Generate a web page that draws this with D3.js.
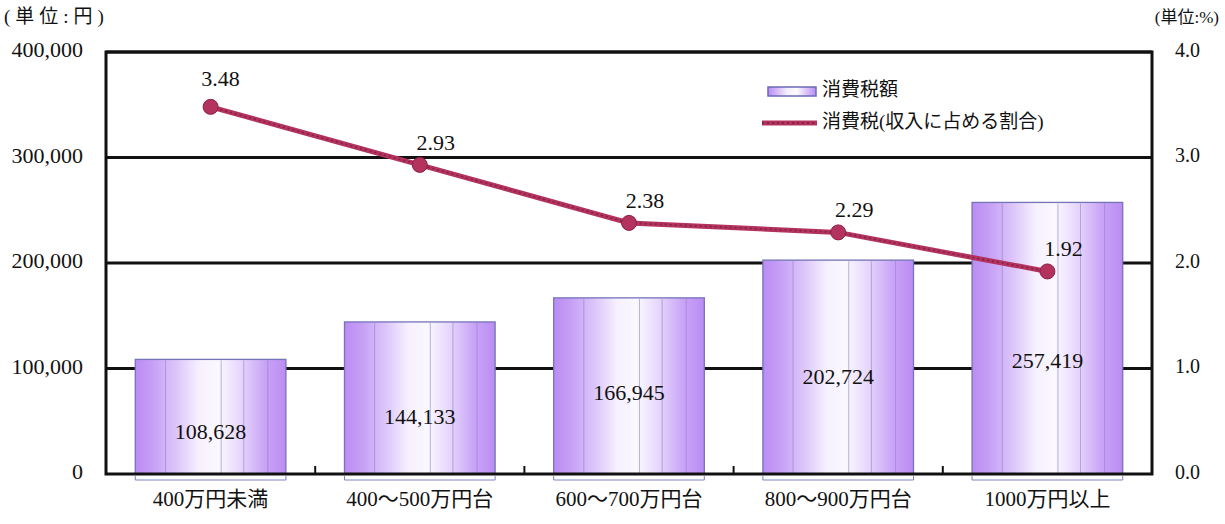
<!DOCTYPE html>
<html>
<head>
<meta charset="utf-8">
<script src="https://cdn.jsdelivr.net/npm/d3@7/dist/d3.min.js"></script>
<style>
  html, body { margin: 0; padding: 0; background: #fff; }
  svg { display: block; }
  text { font-family: "Liberation Serif", "Noto Sans CJK JP", serif; fill: #111; }
</style>
</head>
<body>
<svg id="chart" width="1225" height="524"></svg>
<script>
// Income brackets
const categories = ["400万円未満", "400～500万円台", "600～700万円台", "800～900万円台", "1000万円以上"];
// Consumption tax amount (yen)
const taxAmount = [108628, 144133, 166945, 202724, 257419];
// Consumption tax as a share of income (%)
const taxShare = [3.48, 2.93, 2.38, 2.29, 1.92];
// Axis ticks
const leftTicks = [0, 100000, 200000, 300000, 400000];
const rightTicks = [0, 1, 2, 3, 4];
// Where each amount label sits inside its bar (yen value on the left scale)
const amountLabelAt = [38000, 52000, 75000, 90000, 105000];
const legendLabels = ["消費税額", "消費税(収入に占める割合)"];
const units = ["(単位:円)", "(単位:%)"];

const svg = d3.select("#chart");
const m = { left: 106, right: 1152, top: 52, bottom: 474 };

const x = d3.scaleBand().domain(categories).range([m.left, m.right]).paddingInner(0.28).paddingOuter(0.14);
const yL = d3.scaleLinear().domain([0, 400000]).range([m.bottom, m.top]);
const yR = d3.scaleLinear().domain([0, 4]).range([m.bottom, m.top]);
const step = x.step();

// Bar gradient
const defs = svg.append("defs");
const grad = defs.append("linearGradient").attr("id", "barGrad").attr("x1", "0").attr("x2", "1").attr("y1", "0").attr("y2", "0");
[[0, "#bb8cf3"], [0.1, "#c49cf5"], [0.28, "#ddc7fa"], [0.42, "#f6f0fe"], [0.55, "#fbf8ff"], [0.7, "#e6d6fb"], [0.86, "#c9a4f6"], [1, "#bb8cf3"]]
  .forEach(([o, c]) => grad.append("stop").attr("offset", o).attr("stop-color", c));
const lgrad = defs.append("linearGradient").attr("id", "legGrad").attr("x1", "0").attr("x2", "1");
[[0, "#b98cf2"], [0.4, "#f4edfe"], [0.6, "#fdfbff"], [1, "#b98cf2"]]
  .forEach(([o, c]) => lgrad.append("stop").attr("offset", o).attr("stop-color", c));

// Gridlines
svg.append("g").selectAll("line").data(leftTicks.filter(d => d > 0)).join("line")
  .attr("x1", m.left).attr("x2", m.right)
  .attr("y1", d => yL(d)).attr("y2", d => yL(d))
  .attr("stroke", "#111").attr("stroke-width", 3);

// Bars
const bars = svg.append("g").selectAll("g").data(categories).join("g");
bars.append("rect")
  .attr("x", d => x(d)).attr("width", x.bandwidth())
  .attr("y", (d, i) => yL(taxAmount[i])).attr("height", (d, i) => yL(0) - yL(taxAmount[i]))
  .attr("fill", "url(#barGrad)").attr("stroke", "#7474b6").attr("stroke-width", 1.3);
// fine vertical streaks in the bar fill
[0.2, 0.57, 0.72, 0.88].forEach(f => {
  bars.append("line")
    .attr("x1", d => x(d) + f * x.bandwidth()).attr("x2", d => x(d) + f * x.bandwidth())
    .attr("y1", (d, i) => yL(taxAmount[i]) + 1).attr("y2", yL(0))
    .attr("stroke", "#8a7cc8").attr("stroke-width", 0.8).attr("opacity", 0.7);
});
// thin baseline shadow under each bar
bars.append("path")
  .attr("d", d => `M${x(d)},${yL(0) + 2}V${yL(0) + 6}H${x(d) + x.bandwidth()}V${yL(0) + 2}`)
  .attr("fill", "none").attr("stroke", "#8080c0").attr("stroke-width", 1);

// Frame: top, left, right, bottom
svg.append("rect").attr("x", m.left).attr("y", m.top).attr("width", m.right - m.left).attr("height", m.bottom - m.top)
  .attr("fill", "none").attr("stroke", "#111").attr("stroke-width", 3);

// Category separator ticks on the x axis
const sepTicks = categories.slice(1).map(c => x(c) - step * x.paddingInner() / 2);
svg.append("g").selectAll("line").data(sepTicks).join("line")
  .attr("x1", d => d).attr("x2", d => d).attr("y1", m.bottom).attr("y2", m.bottom - 8)
  .attr("stroke", "#111").attr("stroke-width", 2);

// Amount labels inside bars
bars.append("text")
  .attr("x", d => x(d) + x.bandwidth() / 2)
  .attr("y", (d, i) => yL(amountLabelAt[i]))
  .attr("text-anchor", "middle").attr("dominant-baseline", "middle")
  .attr("font-size", 22)
  .text((d, i) => d3.format(",")(taxAmount[i]));

// Share line
const cx = d => x(d) + x.bandwidth() / 2;
const line = d3.line().x((d, i) => cx(categories[i])).y(d => yR(d));
svg.append("path").datum(taxShare).attr("d", line)
  .attr("fill", "none").attr("stroke", "#b3325e").attr("stroke-width", 5);
svg.append("path").datum(taxShare).attr("d", line)
  .attr("fill", "none").attr("stroke", "#7a1d44").attr("stroke-width", 1.6).attr("stroke-dasharray", "2,3").attr("opacity", 0.8);
svg.append("g").selectAll("circle").data(taxShare).join("circle")
  .attr("cx", (d, i) => cx(categories[i])).attr("cy", d => yR(d)).attr("r", 7.5)
  .attr("fill", "#b3325e").attr("stroke", "#8c2048").attr("stroke-width", 1);
svg.append("g").selectAll("text").data(taxShare).join("text")
  .attr("x", (d, i) => cx(categories[i]) + (i === 0 ? 10 : 16))
  .attr("y", (d, i) => yR(d) - (i === 0 ? 26 : 20))
  .attr("text-anchor", "middle").attr("dominant-baseline", "middle")
  .attr("font-size", 22)
  .text(d => d3.format(".2f")(d));

// Left axis labels
svg.append("g").selectAll("text").data(leftTicks).join("text")
  .attr("x", 83).attr("y", d => yL(d)).attr("text-anchor", "end").attr("dominant-baseline", "middle")
  .attr("font-size", 22).text(d => d3.format(",")(d));
// Right axis labels
svg.append("g").selectAll("text").data(rightTicks).join("text")
  .attr("x", 1175).attr("y", d => yR(d)).attr("text-anchor", "start").attr("dominant-baseline", "middle")
  .attr("font-size", 20).text(d => d3.format(".1f")(d));

// Category labels
svg.append("g").selectAll("text").data(categories).join("text")
  .attr("x", d => cx(d)).attr("y", 501).attr("text-anchor", "middle").attr("dominant-baseline", "middle")
  .attr("font-size", 21).text(d => d);

// Unit captions
svg.append("text").attr("x", 4).attr("y", 19).attr("dominant-baseline", "middle").attr("font-size", 19).attr("letter-spacing", 5).text(units[0]);
svg.append("text").attr("x", 1219).attr("y", 19).attr("text-anchor", "end").attr("dominant-baseline", "middle").attr("font-size", 17).text(units[1]);

// Legend
const lg = svg.append("g");
lg.append("rect").attr("x", 768).attr("y", 87).attr("width", 48).attr("height", 9)
  .attr("fill", "url(#legGrad)").attr("stroke", "#6a6ab8").attr("stroke-width", 1.5);
lg.append("line").attr("x1", 762).attr("x2", 817).attr("y1", 123).attr("y2", 123)
  .attr("stroke", "#b3325e").attr("stroke-width", 5);
lg.append("line").attr("x1", 762).attr("x2", 817).attr("y1", 123).attr("y2", 123)
  .attr("stroke", "#7a1d44").attr("stroke-width", 1.6).attr("stroke-dasharray", "2,3");
lg.append("text").attr("x", 822).attr("y", 92).attr("dominant-baseline", "middle").attr("font-size", 19).text(legendLabels[0]);
lg.append("text").attr("x", 822).attr("y", 124).attr("dominant-baseline", "middle").attr("font-size", 19).text(legendLabels[1]);
</script>
</body>
</html>
